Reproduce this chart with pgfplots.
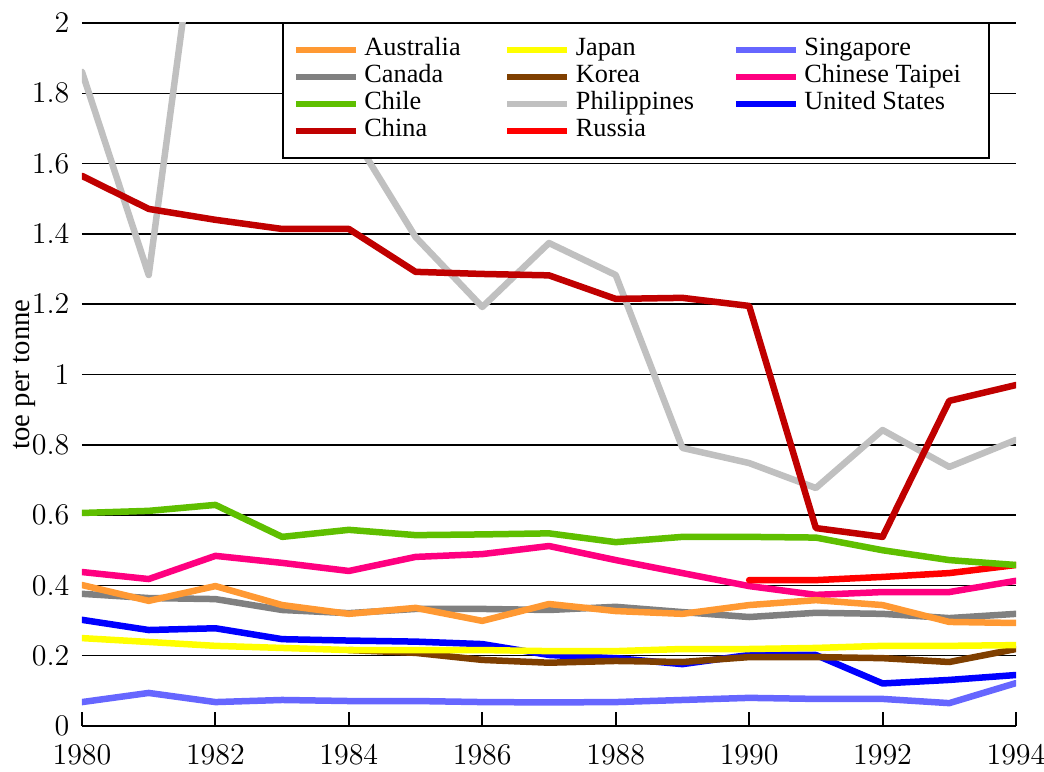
\documentclass[border=0pt]{standalone}
\usepackage{fontspec}
\setmainfont{Liberation Serif}
\usepackage{pgfplots}
\pgfplotsset{compat=1.18}

\definecolor{australia}{HTML}{FF9933}
\definecolor{canada}{HTML}{808080}
\definecolor{chile}{HTML}{5FBF00}
\definecolor{china}{HTML}{C00000}
\definecolor{japan}{HTML}{FFFF00}
\definecolor{korea}{HTML}{7F3F00}
\definecolor{philippines}{HTML}{C0C0C0}
\definecolor{russia}{HTML}{FF0000}
\definecolor{singapore}{HTML}{6666FF}
\definecolor{taipei}{HTML}{FF0080}
\definecolor{usa}{HTML}{0000FF}

\begin{document}
\begin{tikzpicture}
\begin{axis}[
  scale only axis,
  width=373.6pt, height=281.2pt,
  xmin=1980, xmax=1994, ymin=0, ymax=2,
  xtick={1980,1982,...,1994},
  ytick={0,0.2,...,2},
  xticklabel style={/pgf/number format/1000 sep=, yshift=-4.2pt},
  ticklabel style={font=\fontsize{11.5}{14}\selectfont},
  yticklabel style={/pgf/number format/fixed, xshift=-1.5pt},
  axis x line*=bottom, axis y line*=left,
  y axis line style={draw=none},
  axis line style={-, line width=0.8pt},
  tick align=inside,
  major tick length=5.6pt,
  y tick style={draw=none},
  x tick style={black, line width=0.8pt},
  ymajorgrids,
  grid style={black, line width=0.6pt},
  ylabel={toe per tonne},
  ylabel style={font=\fontsize{11.5}{13}\selectfont, at={(axis description cs:-0.062,0.5)}, anchor=center},
  every axis plot/.append style={line width=2.6pt, line cap=round, line join=round},
  legend columns=4, transpose legend,
  legend style={at={(0.2141,1.002)}, anchor=north west, draw=black, line width=0.8pt,
    fill=white, inner xsep=4pt, inner ysep=5.4pt,
    font=\fontsize{10.5}{12}\selectfont,
    nodes={inner sep=0pt, text height=7.6pt, text depth=3.2pt, anchor=west},
    /tikz/every odd column/.style={column sep=2.2pt}},
  legend image code/.code={\draw[#1, line width=2.4pt, line cap=butt] (0pt,0pt) -- (24pt,0pt);},
]
% drawn back to front
\addplot[usa, forget plot] coordinates {(1980,0.302)(1981,0.273)(1982,0.278)(1983,0.247)(1984,0.243)(1985,0.240)(1986,0.233)(1987,0.202)(1988,0.193)(1989,0.176)(1990,0.202)(1991,0.202)(1992,0.121)(1993,0.131)(1994,0.145)};
\addplot[taipei, forget plot] coordinates {(1980,0.438)(1981,0.418)(1982,0.484)(1983,0.464)(1984,0.441)(1985,0.481)(1986,0.489)(1987,0.512)(1988,0.472)(1989,0.435)(1990,0.398)(1991,0.373)(1992,0.381)(1993,0.381)(1994,0.413)};
\addplot[singapore, forget plot] coordinates {(1980,0.068)(1981,0.094)(1982,0.068)(1983,0.074)(1984,0.071)(1985,0.071)(1986,0.068)(1987,0.067)(1988,0.068)(1989,0.074)(1990,0.080)(1991,0.077)(1992,0.077)(1993,0.065)(1994,0.122)};
\addplot[russia, forget plot] coordinates {(1990,0.415)(1991,0.415)(1992,0.424)(1993,0.435)(1994,0.458)};
\addplot[philippines, forget plot] coordinates {(1980,1.861)(1981,1.283)(1982,2.70)(1983,2.40)(1984,1.70)(1985,1.391)(1986,1.192)(1987,1.374)(1988,1.283)(1989,0.791)(1990,0.748)(1991,0.677)(1992,0.842)(1993,0.737)(1994,0.814)};
\addplot[korea, forget plot] coordinates {(1984,0.216)(1985,0.208)(1986,0.188)(1987,0.180)(1988,0.185)(1989,0.182)(1990,0.196)(1991,0.196)(1992,0.193)(1993,0.182)(1994,0.219)};
\addplot[japan, forget plot] coordinates {(1980,0.250)(1981,0.239)(1982,0.228)(1983,0.222)(1984,0.216)(1985,0.216)(1986,0.216)(1987,0.213)(1988,0.213)(1989,0.219)(1990,0.219)(1991,0.222)(1992,0.228)(1993,0.228)(1994,0.230)};
\addplot[china, forget plot] coordinates {(1980,1.565)(1981,1.471)(1982,1.440)(1983,1.414)(1984,1.414)(1985,1.292)(1986,1.286)(1987,1.282)(1988,1.215)(1989,1.218)(1990,1.195)(1991,0.563)(1992,0.538)(1993,0.925)(1994,0.970)};
\addplot[chile, forget plot] coordinates {(1980,0.606)(1981,0.612)(1982,0.629)(1983,0.538)(1984,0.558)(1985,0.543)(1986,0.545)(1987,0.548)(1988,0.523)(1989,0.538)(1990,0.538)(1991,0.536)(1992,0.500)(1993,0.472)(1994,0.458)};
\addplot[canada, forget plot] coordinates {(1980,0.376)(1981,0.364)(1982,0.361)(1983,0.330)(1984,0.321)(1985,0.333)(1986,0.333)(1987,0.330)(1988,0.339)(1989,0.324)(1990,0.310)(1991,0.322)(1992,0.319)(1993,0.307)(1994,0.319)};
\addplot[australia, forget plot] coordinates {(1980,0.401)(1981,0.356)(1982,0.398)(1983,0.344)(1984,0.319)(1985,0.336)(1986,0.299)(1987,0.347)(1988,0.327)(1989,0.319)(1990,0.344)(1991,0.358)(1992,0.344)(1993,0.296)(1994,0.293)};

\addlegendimage{australia}\addlegendentry{\makebox[56pt][l]{Australia}}
\addlegendimage{canada}\addlegendentry{\makebox[56pt][l]{Canada}}
\addlegendimage{chile}\addlegendentry{\makebox[56pt][l]{Chile}}
\addlegendimage{china}\addlegendentry{\makebox[56pt][l]{China}}
\addlegendimage{japan}\addlegendentry{\makebox[62.8pt][l]{Japan}}
\addlegendimage{korea}\addlegendentry{\makebox[62.8pt][l]{Korea}}
\addlegendimage{philippines}\addlegendentry{\makebox[62.8pt][l]{Philippines}}
\addlegendimage{russia}\addlegendentry{\makebox[62.8pt][l]{Russia}}
\addlegendimage{singapore}\addlegendentry{\makebox[70pt][l]{Singapore}}
\addlegendimage{taipei}\addlegendentry{\makebox[70pt][l]{Chinese Taipei}}
\addlegendimage{usa}\addlegendentry{\makebox[70pt][l]{United States}}
\end{axis}
\pgfresetboundingbox
\path[use as bounding box] ([shift={(-32.8pt,-18.4pt)}]current axis.south west) rectangle ([shift={(11.2pt,9.2pt)}]current axis.north east);
\end{tikzpicture}
\end{document}
